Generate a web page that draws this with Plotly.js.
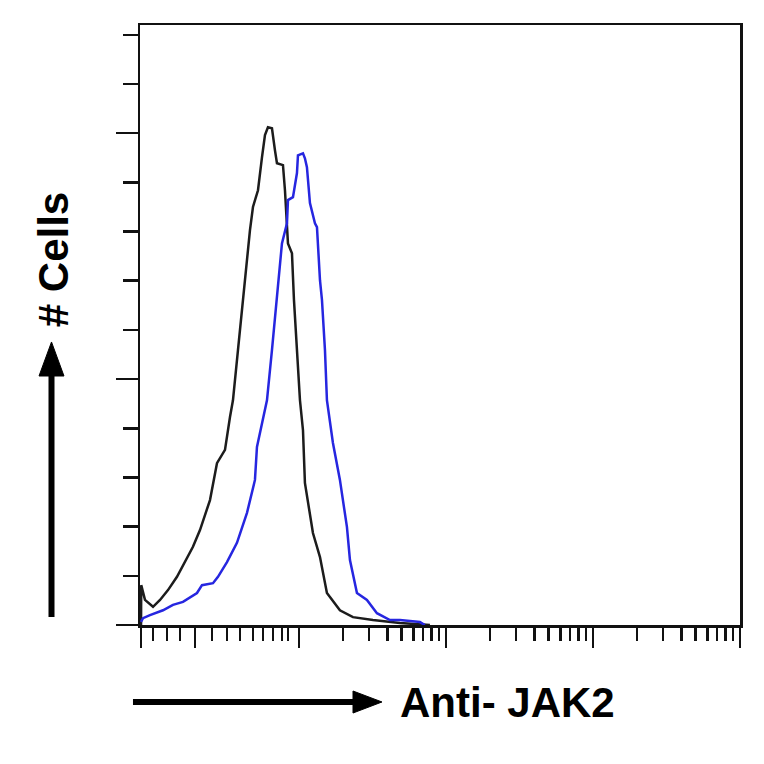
<!DOCTYPE html>
<html>
<head>
<meta charset="utf-8">
<script src="https://cdn.plot.ly/plotly-3.0.1.min.js"></script>
<style>html,body{margin:0;padding:0;background:#fff;}#chart{width:764px;height:764px;}</style>
</head>
<body>
<div id="chart"></div>
<script>
// Control (isotype) histogram - black
const controlIntensity = [0.842,0.845,0.896,1.016,1.134,1.285,1.479,1.677,1.900,2.121,2.294,2.481,2.768,3.138,3.394,3.556,3.846,4.159,4.430,4.642,4.865,5.263,5.602,5.871,6.153,6.551,6.867,7.086,7.784,8.031,8.418,8.962,9.247,9.692,10.16,10.65,10.98,12.45,13.90,15.50,19.00,23.30,31.87,48.65,77.84];
const controlCells = [0,0.81,0.51,0.37,0.51,0.71,0.98,1.28,1.59,1.93,2.24,2.54,3.29,3.56,4.23,4.57,5.59,6.61,7.42,8.03,8.50,8.84,9.51,9.96,10.12,10.10,9.65,9.39,9.35,8.84,7.76,7.56,6.61,5.59,4.57,3.96,2.89,1.87,1.38,0.65,0.30,0.16,0.10,0.04,0];

// Anti-JAK2 histogram - blue
const jak2Intensity = [0.842,0.869,0.969,1.188,1.389,1.625,2.024,2.189,2.600,2.812,3.237,3.786,4.430,4.789,5.019,5.179,5.690,6.058,6.551,7.086,7.662,8.286,8.418,9.104,9.692,9.845,10.65,10.98,11.33,11.88,12.85,13.26,13.90,14.34,15.03,15.50,17.03,19.00,21.21,22.23,24.81,29.01,33.94,41.59,48.65,66.55,71.96];
const jak2Cells = [0.06,0.14,0.20,0.30,0.41,0.47,0.65,0.81,0.85,0.98,1.28,1.67,2.28,2.74,2.95,3.62,4.17,4.57,5.59,6.61,7.76,8.17,8.64,8.70,9.19,9.55,9.59,9.49,9.31,8.58,8.17,8.09,7.01,6.61,5.59,4.57,3.70,2.95,1.99,1.32,0.65,0.51,0.24,0.10,0.10,0.06,0];

// Tick positions
const xMajorTicks = [0.842,1.961,10,100,1000,10000];
const xMinorTicks = [1.016,1.265,1.550,2.559,3.237,3.968,4.865,5.690,6.655,7.662,8.418,
  20,30,40,50,60,70,80,90,200,300,400,500,600,700,800,900,2000,3000,4000,5000,6000,7000,8000,9000];
const yMajorTicks = [0,5,10];
const yMinorTicks = [1,2,3,4,6,7,8,9,11,12];

const xTitle = 'Anti- JAK2';
const yTitle = '# Cells';

const traces = [
  {x: controlIntensity, y: controlCells, type: 'scatter', mode: 'lines',
   line: {color: '#1c1c1c', width: 2.5}, hoverinfo: 'skip'},
  {x: jak2Intensity, y: jak2Cells, type: 'scatter', mode: 'lines',
   line: {color: '#2626e0', width: 2.5}, hoverinfo: 'skip'}
];

const layout = {
  width: 764, height: 764,
  margin: {l: 140, r: 24, t: 25, b: 139},
  paper_bgcolor: '#ffffff', plot_bgcolor: '#ffffff',
  showlegend: false,
  xaxis: {
    type: 'log', range: [-0.0816, 4.001],
    showline: true, linecolor: '#111', linewidth: 2.5, mirror: true,
    showgrid: false, zeroline: false,
    tickmode: 'array', tickvals: xMajorTicks, ticks: 'outside', ticklen: 20, tickwidth: 2.5, tickcolor: '#111',
    showticklabels: false,
    minor: {tickmode: 'array', tickvals: xMinorTicks, ticks: 'outside', ticklen: 13, tickwidth: 2.5, tickcolor: '#111', showgrid: false}
  },
  yaxis: {
    range: [0, 12.2],
    showline: true, linecolor: '#111', linewidth: 2.5, mirror: true,
    showgrid: false, zeroline: false,
    tickmode: 'array', tickvals: yMajorTicks, ticks: 'outside', ticklen: 22, tickwidth: 2.5, tickcolor: '#111',
    showticklabels: false,
    minor: {tickmode: 'array', tickvals: yMinorTicks, ticks: 'outside', ticklen: 15, tickwidth: 2.5, tickcolor: '#111', showgrid: false}
  },
  shapes: [
    // horizontal arrow
    {type: 'line', xref: 'paper', yref: 'paper', x0: -0.0117, x1: 0.36, y0: -0.1283, y1: -0.1283,
     line: {color: '#000', width: 6}},
    {type: 'path', xref: 'paper', yref: 'paper',
     path: 'M 0.355 -0.1100 L 0.4033 -0.1283 L 0.355 -0.1467 Z',
     fillcolor: '#000', line: {color: '#000', width: 1}},
    // vertical arrow
    {type: 'line', xref: 'paper', yref: 'paper', x0: -0.1475, x1: -0.1475, y0: 0.0133, y1: 0.42,
     line: {color: '#000', width: 6}},
    {type: 'path', xref: 'paper', yref: 'paper',
     path: 'M -0.1683 0.415 L -0.1475 0.4717 L -0.1267 0.415 Z',
     fillcolor: '#000', line: {color: '#000', width: 1}}
  ],
  annotations: [
    {text: '<b>' + xTitle + '</b>', xref: 'paper', yref: 'paper', x: 0.43, y: -0.13,
     xanchor: 'left', yanchor: 'middle', showarrow: false,
     font: {family: 'Liberation Sans, Arial, sans-serif', size: 42, color: '#000'}},
    {text: '<b>' + yTitle + '</b>', xref: 'paper', yref: 'paper', x: -0.145, y: 0.608,
     xanchor: 'center', yanchor: 'middle', textangle: -90, showarrow: false,
     font: {family: 'Liberation Sans, Arial, sans-serif', size: 42, color: '#000'}}
  ]
};

Plotly.newPlot('chart', traces, layout, {staticPlot: true, displayModeBar: false});
</script>
</body>
</html>
